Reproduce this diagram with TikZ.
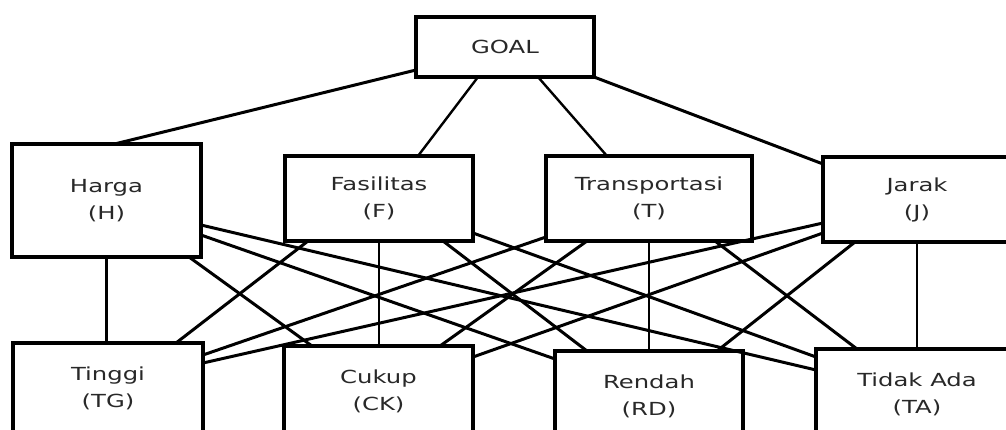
\documentclass[tikz,border=0pt]{standalone}
\usepackage{fontspec}
\usetikzlibrary{calc}
\newfontfamily\lblfont[FakeStretch=1.35]{DejaVu Sans}
\definecolor{txt}{RGB}{40,40,40}
\begin{document}
\begin{tikzpicture}[x=1pt,y=-1pt,
  box/.style={draw, line width=3.5pt, rectangle, inner sep=0pt, outer sep=0pt, align=center,
    font=\lblfont\fontsize{18}{27}\selectfont, text=txt},
  link/.style={line width=3pt},
  thinlink/.style={line width=2.4pt}]
\useasboundingbox (0,0) rectangle (1006,430);
\clip (0,0) rectangle (1006,430);
% top
\node[box, minimum width=178pt, minimum height=60pt] (G) at (505,47) {GOAL};
% criteria
\node[box, minimum width=189pt, minimum height=113pt] (H) at (106.5,200.5) {Harga\\(H)};
\node[box, minimum width=188pt, minimum height=85pt] (F) at (379,198.5) {Fasilitas\\(F)};
\node[box, minimum width=206pt, minimum height=85pt] (T) at (649,198.5) {Transportasi\\(T)};
\node[box, minimum width=188pt, minimum height=85pt] (J) at (917,199.5) {Jarak\\(J)};
% alternatives
\node[box, minimum width=190pt, minimum height=90pt] (TG) at (108,388) {Tinggi\\(TG)};
\node[box, minimum width=189pt, minimum height=90pt] (CK) at (378.5,391) {Cukup\\(CK)};
\node[box, minimum width=188pt, minimum height=90pt] (RD) at (649,396) {Rendah\\(RD)};
\node[box, minimum width=202pt, minimum height=90pt] (TA) at (917,394) {Tidak Ada\\(TA)};
% goal links
\draw[link] ([yshift=7pt]G.south west) -- ([xshift=8pt]H.north);
\draw[thinlink] ([xshift=-27pt]G.south) -- ([xshift=39pt]F.north);
\draw[thinlink] ([xshift=33pt]G.south) -- ([xshift=-42pt]T.north);
\draw[link] (G.south east) -- ([yshift=-7pt]J.north west);
% Harga
\draw[thinlink] (H.south) -- (H.south |- TG.north);
\draw[link] ([xshift=-12pt]H.south east) -- ([xshift=28pt]CK.north west);
\draw[link] ([yshift=22pt]H.south east) -- ([yshift=-8pt]RD.north west);
\draw[link] ([yshift=32pt]H.south east) -- ([yshift=-21pt]TA.north west);
% Fasilitas
\draw[link] ([xshift=23pt]F.south west) -- ([xshift=-27pt]TG.north east);
\draw[thinlink] (F.south) -- (F.south |- CK.north);
\draw[link] ([xshift=-30pt]F.south east) -- ([xshift=32pt]RD.north west);
\draw[link] ([yshift=8pt]F.south east) -- ([yshift=-8pt]TA.north west);
% Transportasi
\draw[link] ([yshift=4pt]T.south west) -- ([yshift=-12pt]TG.north east);
\draw[link] ([xshift=41pt]T.south west) -- ([xshift=-33pt]CK.north east);
\draw[thinlink] (T.south) -- (T.south |- RD.north);
\draw[link] ([xshift=-37pt]T.south east) -- ([xshift=41pt]TA.north west);
% Jarak
\draw[link] ([yshift=19pt]J.south west) -- ([yshift=-20pt]TG.north east);
\draw[link] ([yshift=9pt]J.south west) -- ([yshift=-11pt]CK.north east);
\draw[link] ([xshift=32pt]J.south west) -- ([xshift=-26pt]RD.north east);
\draw[thinlink] (J.south) -- (J.south |- TA.north);
\end{tikzpicture}
\end{document}
